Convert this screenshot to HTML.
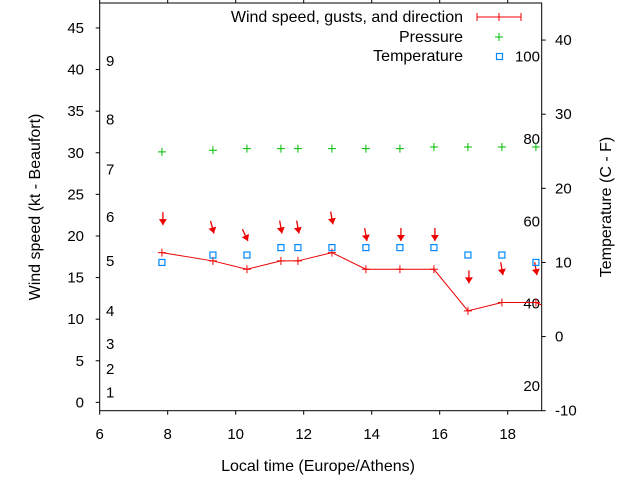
<!DOCTYPE html>
<html><head><meta charset="utf-8"><style>
html,body{margin:0;padding:0;background:#fff;}
svg{display:block;font-family:"Liberation Sans",Arial,sans-serif;font-size:15px;}
.big{font-size:16px;}
</style></head><body>
<svg id="chart" width="640" height="480" viewBox="0 0 640 480">
<g id="axes"></g>
<g id="marks"></g>
<g id="legend">
  <text class="big" x="463" y="22" text-anchor="end">Wind speed, gusts, and direction</text>
  <line x1="477" y1="17" x2="521" y2="17" stroke="#e00" stroke-width="1"/>
  <line x1="477" y1="13" x2="477" y2="21" stroke="#e00"/><line x1="521" y1="13" x2="521" y2="21" stroke="#e00"/><line x1="499" y1="13" x2="499" y2="21" stroke="#e00"/>
  <text class="big" x="463" y="42" text-anchor="end">Pressure</text>
  <path d="M495 37h8M499 33v8" stroke="#0b0" stroke-width="1"/>
  <text class="big" x="463" y="61" text-anchor="end">Temperature</text>
  <rect x="496.5" y="53.5" width="6" height="6" fill="none" stroke="#08f" stroke-width="1.2"/>
</g>
<text class="big" x="318" y="471" text-anchor="middle">Local time (Europe/Athens)</text>
<text class="big" transform="translate(40,207) rotate(-90)" text-anchor="middle">Wind speed (kt - Beaufort)</text>
<text class="big" transform="translate(611,207) rotate(-90)" text-anchor="middle">Temperature (C - F)</text>
</svg>
<script>
const times=[7.83,9.33,10.33,11.33,11.83,12.83,13.83,14.83,15.83,16.83,17.83,18.83];
const wind=[18,17,16,17,17,18,16,16,16,11,12,12];
const gust=[21.3,20.3,19.4,20.3,20.3,21.4,19.4,19.4,19.4,14.3,15.3,15.3];
const dirTilt=[0,15,25,10,10,10,10,0,0,0,10,10];
const pressure=[30.1,30.3,30.5,30.5,30.5,30.5,30.5,30.5,30.7,30.7,30.7,30.7];
const temp=[10,11,11,12,12,12,12,12,12,11,11,10];
const xTicks=[6,8,10,12,14,16,18];
const yTicks=[0,5,10,15,20,25,30,35,40,45];
const y2Ticks=[-10,0,10,20,30,40];
const beaufort=[[1,1.2],[2,4],[3,7],[4,11],[5,17],[6,22.3],[7,28],[8,34],[9,41]];
const fahr=[20,40,60,80,100];

const L=99.7,R=541.7,T=3,B=410.7;
const X=v=>L+(v-6)/(19-6)*(R-L);
const Y=v=>B-(v+1)/(48+1)*(B-T);
const Y2=v=>B-(v+10)/(45+10)*(B-T);
const NS='http://www.w3.org/2000/svg';
const axes=document.getElementById('axes'),marks=document.getElementById('marks');
function mk(p,tag,at){const e=document.createElementNS(NS,tag);for(const k in at)e.setAttribute(k,at[k]);p.appendChild(e);return e;}
const frame=mk(axes,'rect',{x:L,y:T,width:R-L,height:B-T,fill:'none',stroke:'#000','stroke-width':1});


xTicks.forEach(v=>{const x=X(v);
 mk(axes,'line',{x1:x,y1:B,x2:x,y2:B+4,stroke:'#000'});
 mk(axes,'line',{x1:x,y1:T,x2:x,y2:T-4,stroke:'#000'});
 const t=mk(axes,'text',{x:x,y:439,'text-anchor':'middle'});t.textContent=v;
 
 });
yTicks.forEach(v=>{const y=Y(v);
 mk(axes,'line',{x1:L-4,y1:y,x2:L,y2:y,stroke:'#000'});
 const t=mk(axes,'text',{x:84,y:y+5,'text-anchor':'end'});t.textContent=v;
 
 });
y2Ticks.forEach(v=>{const y=Y2(v);
 mk(axes,'line',{x1:R,y1:y,x2:R+4,y2:y,stroke:'#000'});
 const t=mk(axes,'text',{x:555,y:y+5});t.textContent=v;
 
 });
beaufort.forEach(b=>{const t=mk(axes,'text',{x:106,y:Y(b[1])+5});t.textContent=b[0];
 
 });
fahr.forEach(f=>{const c=(f-32)*5/9;const t=mk(axes,'text',{x:540,y:Y2(c)+5,'text-anchor':'end'});t.textContent=f;
 
 });
let d='';times.forEach((t,i)=>{d+=(i?'L':'M')+X(t)+' '+Y(wind[i]);});
d+='L'+R+' '+Y(wind[wind.length-1]-0.3);
const wl=mk(marks,'path',{d:d,fill:'none',stroke:'#e00','stroke-width':1});


times.forEach((t,i)=>{const x=X(t),y=Y(wind[i]);
 const p=mk(marks,'path',{d:`M${x-4} ${y}h8M${x} ${y-4}v8`,stroke:'#e00'});
 
 
 const a=dirTilt[i]*Math.PI/180,tx=x+1,ty=Y(gust[i]);const len=13;
 const sx=tx-Math.sin(a)*len,sy=ty-Math.cos(a)*len;
 const g=mk(marks,'g',{});
 
 
 mk(g,'line',{x1:sx,y1:sy,x2:tx,y2:ty,stroke:'#e00','stroke-width':1.3});
 const ux=Math.sin(a),uy=Math.cos(a),px=uy,py=-ux;
 const bx=tx-ux*6,by=ty-uy*6;
 mk(g,'polygon',{points:`${tx},${ty} ${bx+px*4},${by+py*4} ${bx-px*4},${by-py*4}`,fill:'#e00'});
 const pp=mk(marks,'path',{d:`M${x-4} ${Y(pressure[i])}h8M${x} ${Y(pressure[i])-4}v8`,stroke:'#0b0'});
 
 
 const r=mk(marks,'rect',{x:x-3,y:Y2(temp[i])-3,width:6,height:6,fill:'none',stroke:'#08f','stroke-width':1.2});
 
 
});
</script>
</body></html>
